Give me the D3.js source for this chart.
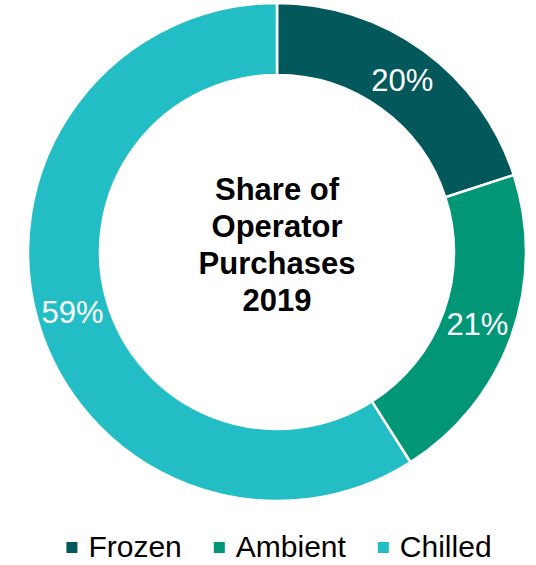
<!DOCTYPE html>
<html>
<head>
<meta charset="utf-8">
<script src="https://cdn.jsdelivr.net/npm/d3@7/dist/d3.min.js"></script>
<style>
  html, body { margin: 0; padding: 0; background: #ffffff; }
  svg { display: block; font-family: "Liberation Sans", Arial, sans-serif; }
</style>
</head>
<body>
<svg id="chart" width="536" height="565"></svg>
<script>
// Share of operator purchases by storage type, 2019 (%)
const categories = ["Frozen", "Ambient", "Chilled"];
const shares = [20, 21, 59];
const colors = ["#03585B", "#009676", "#23BEC5"];
const titleLines = ["Share of", "Operator", "Purchases", "2019"];

const width = 536, height = 565;
const cx = 277, cy = 252;
const outerR = 249, innerR = 177;

const svg = d3.select("#chart");
const data = categories.map((c, i) => ({ name: c, value: shares[i], color: colors[i] }));

const pie = d3.pie().sort(null).value(d => d.value);
const arc = d3.arc().innerRadius(innerR).outerRadius(outerR);
const labelArc = d3.arc().innerRadius(213).outerRadius(213);

const g = svg.append("g").attr("transform", `translate(${cx},${cy})`);
const arcs = pie(data);

g.selectAll("path.slice")
  .data(arcs)
  .join("path")
  .attr("class", "slice")
  .attr("d", arc)
  .attr("fill", d => d.data.color)
  .attr("stroke", "#ffffff")
  .attr("stroke-width", 2.5)
  .attr("stroke-linejoin", "miter");

// value labels inside the ring
g.selectAll("text.value")
  .data(arcs)
  .join("text")
  .attr("class", "value")
  .attr("x", d => labelArc.centroid(d)[0])
  .attr("y", d => labelArc.centroid(d)[1])
  .attr("dy", "0.36em")
  .attr("text-anchor", "middle")
  .attr("fill", "#ffffff")
  .attr("font-size", 31)
  .text(d => d.data.value + "%");

// centre title
const title = g.append("text")
  .attr("text-anchor", "middle")
  .attr("font-weight", "bold")
  .attr("font-size", 31)
  .attr("fill", "#000000");
titleLines.forEach((line, i) => {
  title.append("tspan")
    .attr("x", 0)
    .attr("y", -52 + i * 37)
    .text(line);
});

// legend, centred below the ring
const legend = svg.append("g").attr("class", "legend");
const sq = 11, gap = 11, itemGap = 32, baseline = 557;
const items = legend.selectAll("g.item")
  .data(data)
  .join("g")
  .attr("class", "item");
items.append("rect")
  .attr("width", sq)
  .attr("height", sq)
  .attr("y", baseline - 15)
  .attr("fill", d => d.color);
items.append("text")
  .attr("x", sq + gap)
  .attr("y", baseline)
  .attr("font-size", 30)
  .attr("fill", "#000000")
  .text(d => d.name);

let x = 0;
const widths = [];
items.each(function () {
  const w = sq + gap + d3.select(this).select("text").node().getComputedTextLength();
  widths.push(w);
});
const total = d3.sum(widths) + itemGap * (widths.length - 1);
x = 279 - total / 2;
items.attr("transform", (d, i) => {
  const t = `translate(${x},0)`;
  x += widths[i] + itemGap;
  return t;
});
</script>
</body>
</html>
